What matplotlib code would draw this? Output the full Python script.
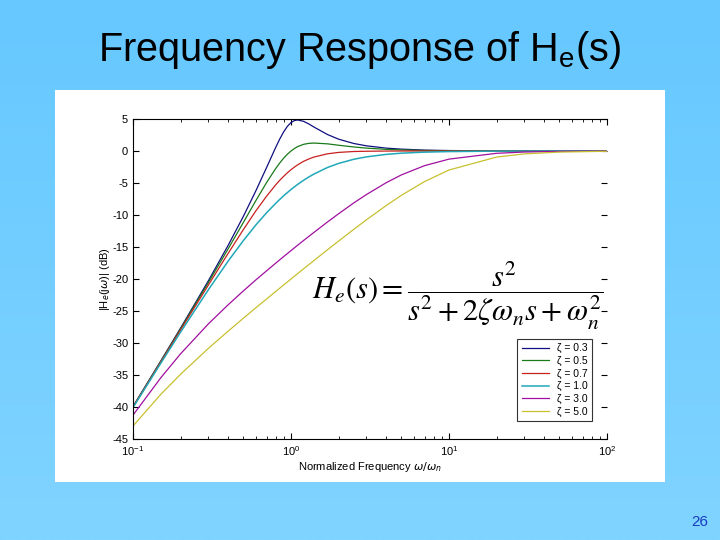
import numpy as np
import matplotlib
matplotlib.use("Agg")
import matplotlib.pyplot as plt
from matplotlib.patches import Rectangle

plt.rcParams['font.family'] = ['Liberation Sans', 'DejaVu Sans']
plt.rcParams['mathtext.fontset'] = 'custom'
plt.rcParams['mathtext.rm'] = 'Liberation Sans'
plt.rcParams['mathtext.it'] = 'Liberation Sans:italic'
plt.rcParams['axes.unicode_minus'] = False

# normalized frequency w/wn and magnitude |He(jw)| in dB
freq = [0.1, 0.15, 0.2, 0.3, 0.4, 0.5, 0.6, 0.7, 0.8, 0.85, 0.9, 0.95, 1.0, 1.05,
        1.1, 1.2, 1.3, 1.4, 1.7, 2, 2.5, 3, 4, 5, 7, 10, 20, 30, 50, 100]
mag_03 = [-39.93, -32.80, -27.67, -20.27, -14.75, -10.19, -6.19, -2.60, 0.56, 1.90,
          3.02, 3.87, 4.44, 4.75, 4.85, 4.64, 4.21, 3.73, 2.58, 1.85, 1.17, 0.81,
          0.45, 0.29, 0.14, 0.07, 0.02, 0.01, 0.0, 0.0]
mag_05 = [-39.96, -32.86, -27.79, -20.55, -15.29, -11.14, -7.73, -4.95, -2.74, -1.85,
          -1.10, -0.49, 0.0, 0.38, 0.68, 1.04, 1.20, 1.24, 1.12, 0.90, 0.63, 0.45,
          0.26, 0.17, 0.08, 0.04, 0.01, 0.0, 0.0, 0.0]
mag_07 = [-40.00, -32.96, -27.96, -20.94, -16.00, -12.26, -9.34, -7.07, -5.29, -4.56,
          -3.94, -3.39, -2.92, -2.52, -2.17, -1.62, -1.23, -0.94, -0.44, -0.22,
          -0.08, -0.04, -0.01, 0.0, 0.0, 0.0, 0.0, 0.0, 0.0, 0.0]
mag_10 = [-40.09, -33.15, -28.30, -21.67, -17.21, -13.98, -11.54, -9.66, -8.18, -7.55,
          -6.98, -6.48, -6.02, -5.61, -5.23, -4.58, -4.04, -3.59, -2.58, -1.94,
          -1.29, -0.92, -0.53, -0.34, -0.18, -0.09, -0.02, -0.01, 0.0, 0.0]
mag_30 = [-41.27, -35.43, -31.69, -27.01, -24.03, -21.85, -20.13, -18.73, -17.53,
          -16.99, -16.48, -16.01, -15.56, -15.14, -14.74, -13.99, -13.32, -12.70,
          -11.10, -9.81, -8.10, -6.81, -4.96, -3.73, -2.29, -1.27, -0.36, -0.16,
          -0.06, -0.01]
mag_50 = [-42.97, -38.02, -34.88, -30.84, -28.15, -26.12, -24.48, -23.13, -21.95,
          -21.42, -20.92, -20.45, -20.00, -19.58, -19.17, -18.42, -17.73, -17.10,
          -15.44, -14.08, -12.23, -10.76, -8.53, -6.92, -4.78, -2.97, -0.95, -0.45,
          -0.17, -0.04]

series = [mag_03, mag_05, mag_07, mag_10, mag_30, mag_50]
labels = ['ζ = 0.3', 'ζ = 0.5', 'ζ = 0.7', 'ζ = 1.0', 'ζ = 3.0', 'ζ = 5.0']
colors = ['#101080', '#1a7a1a', '#c82020', '#20a8b8', '#a010a0', '#c8c030']
widths = [0.9, 0.9, 0.9, 1.1, 0.9, 0.9]

fig = plt.figure(figsize=(7.2, 5.4), dpi=100)

# slide background gradient
bg = fig.add_axes([0, 0, 1, 1], zorder=-10)
grad = np.linspace(0, 1, 256).reshape(-1, 1)
bg.imshow(grad, aspect='auto', extent=[0, 1, 0, 1],
          cmap=matplotlib.colors.LinearSegmentedColormap.from_list('sky', ['#66c8ff', '#80d4ff']))
bg.set_axis_off()
fig.patches.append(Rectangle((55 / 720, 1 - 482 / 540), 610 / 720, 392 / 540,
                             transform=fig.transFigure, facecolor='white',
                             edgecolor='none', zorder=-5))

fig.text(0.5, 1 - 50 / 540, 'Frequency Response of H$_\\mathrm{e}$(s)',
         ha='center', va='center', fontsize=28.5, color='black')
fig.text(700 / 720, 1 - 522 / 540, '26', ha='center', va='center',
         fontsize=11, color='#1a3cc0')

ax = fig.add_axes([133 / 720, 1 - 439 / 540, 474 / 720, 320 / 540])
ax.set_facecolor('white')
for y, lab, c, lw in zip(series, labels, colors, widths):
    ax.plot(freq, y, color=c, lw=lw, label=lab)

ax.set_xscale('log')
ax.set_xlim(0.1, 100)
ax.set_ylim(-45, 5)
ax.set_yticks(np.arange(-45, 6, 5))
ax.tick_params(which='both', direction='in', top=True, right=True, labelsize=8)
ax.tick_params(which='major', length=4)
ax.tick_params(which='minor', length=2.5)
ax.spines['right'].set_visible(False)
ax.set_xlabel('Normalized Frequency $\\omega/\\omega_n$', fontsize=8, labelpad=2,
              math_fontfamily='dejavusans')
ax.set_ylabel('|H$_e$(j$\\omega$)| (dB)', fontsize=8, labelpad=0,
              math_fontfamily='dejavusans')

leg = ax.legend(loc='lower left', bbox_to_anchor=(0.80, 0.04), fontsize=7.5,
                frameon=True, fancybox=False, edgecolor='black', handlelength=2.6,
                borderpad=0.4, labelspacing=0.25)
leg.get_frame().set_linewidth(0.8)

fig.text(458 / 720, 1 - 296 / 540,
         r'$H_e(s) = \dfrac{s^2}{s^2 + 2\zeta\omega_n s + \omega_n^2}$',
         ha='center', va='center', fontsize=22, math_fontfamily='stix')

fig.savefig('out.png', dpi=100)
